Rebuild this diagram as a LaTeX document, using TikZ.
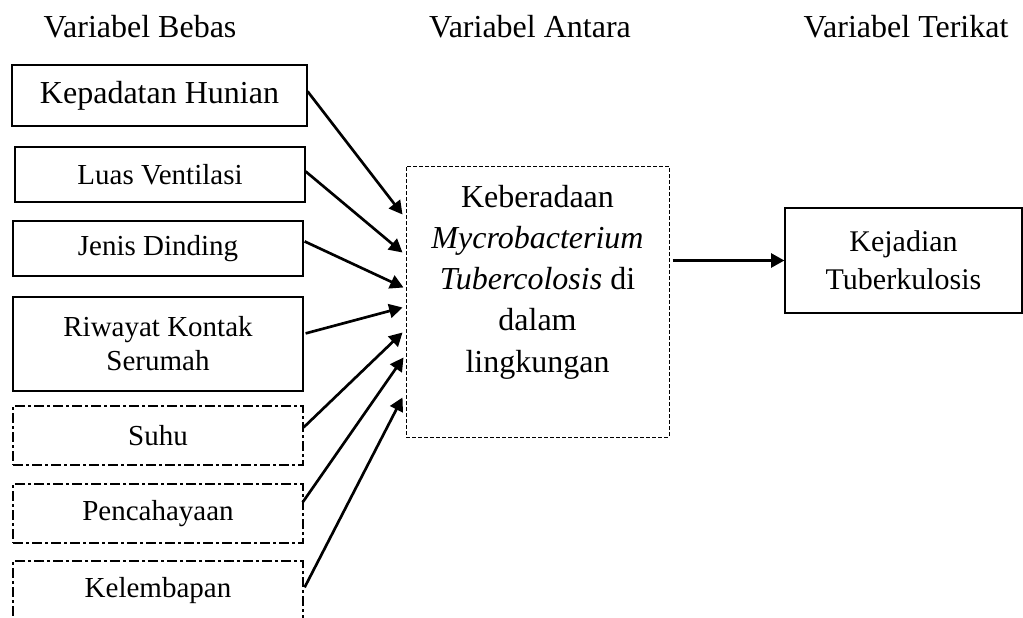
\documentclass[tikz,border=0pt]{standalone}
\usepackage{fontspec}
\setmainfont{Liberation Serif}
\usetikzlibrary{arrows.meta,calc}
\begin{document}
\begin{tikzpicture}[x=0.75pt,y=-0.75pt,
  box/.style={draw,line width=0.9pt,inner sep=0pt,align=center,
    font=\fontsize{21.75}{25.5}\selectfont},
  solidbox/.style={box,minimum width=217.5pt,minimum height=41.25pt},
  dashdotbox/.style={box,minimum width=217.5pt,minimum height=44.25pt,
    dash pattern=on 7.5pt off 2.25pt on 2.25pt off 2.25pt},
  header/.style={font=\fontsize{24}{30}\selectfont,anchor=base,inner sep=0pt},
  arr/.style={line width=2pt,-{Triangle[length=10pt,width=10.5pt]}}]
\clip (0,0) rectangle (1023,617);
\fill[white] (0,0) rectangle (1023,617);
% headers
\node[header] (h1) at (140,38) {Variabel Bebas};
\node[header] (h2) at (530,38) {Variabel Antara};
\node[header] (h3) at (906,38) {Variabel Terikat};
% left boxes
\node[solidbox,minimum width=221.25pt,minimum height=45.75pt,
  font=\fontsize{24}{30}\selectfont] (kep) at (159.5,95.5) {Kepadatan Hunian};
\node[solidbox] (luas) at (160,174.5) {Luas Ventilasi};
\node[solidbox] (jenis) at (158,248.5) {Jenis Dinding};
\node[solidbox,minimum height=70.5pt] (riw) at (158,344) {Riwayat Kontak\\Serumah};
\node[dashdotbox] (suhu) at (158,435.5) {Suhu};
\node[dashdotbox] (penc) at (158,513.5) {Pencahayaan};
\node[dashdotbox] (kel) at (158,590.5) {Kelembapan};
% middle box
\node[draw,line width=0.75pt,dash pattern=on 3pt off 1.5pt,
  minimum width=197.25pt,minimum height=203.25pt,inner sep=0pt] (mid) at (537.5,301.5) {};
\node[anchor=base,inner sep=0pt,align=center,
  font=\fontsize{24}{30.9}\selectfont] (midtext) at (537.5,372)
  {Keberadaan\\\textit{Mycrobacterium}\\\textit{Tubercolosis} di\\dalam\\lingkungan};
% right box
\node[box,minimum width=177.75pt,minimum height=78.75pt,
  font=\fontsize{22.5}{28.5}\selectfont] (res) at (903.5,260.5) {Kejadian\\Tuberkulosis};
% arrows
\draw[arr] ($(kep.north east)+(0,27)$) -- ($(mid.north west)+(-3,49)$);
\draw[arr] ($(luas.north east)+(0,25)$) -- ($(mid.north west)+(-3,87)$);
\draw[arr] ($(jenis.north east)+(1,21)$) -- ($(mid.north west)+(-2,122)$);
\draw[arr] ($(riw.north east)+(2,37)$) -- ($(mid.north west)+(-3,142)$);
\draw[arr] ($(suhu.north east)+(0,22)$) -- ($(mid.north west)+(-3,167)$);
\draw[arr] ($(penc.north east)+(-1,19)$) -- ($(mid.north west)+(-2,192)$);
\draw[arr] ($(kel.north east)+(1,27)$) -- ($(mid.north west)+(-3,232)$);
\draw[arr] ($(res.west -| mid.east)+(3,0)$) -- (res.west);
\end{tikzpicture}
\end{document}
